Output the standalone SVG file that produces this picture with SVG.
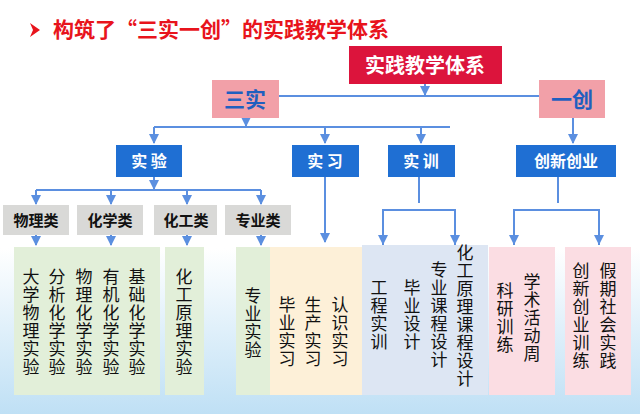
<svg xmlns="http://www.w3.org/2000/svg" width="640" height="414" viewBox="0 0 640 414">
<defs>
<linearGradient id="bg" x1="0" y1="0" x2="0" y2="1"><stop offset="0" stop-color="#ffffff"/><stop offset="0.6" stop-color="#ffffff"/><stop offset="1" stop-color="#bfe0f5"/></linearGradient>
<marker id="ah" viewBox="0 0 10 10" refX="9" refY="5" markerWidth="5" markerHeight="5" orient="auto"><path d="M0,0 L10,5 L0,10 z" fill="#5b8fe0"/></marker>
<style>
.t{font-family:"Noto Sans CJK SC",sans-serif;}
.lvl{fill:#1f6fd3}
.lt{font-family:"Noto Sans CJK SC",sans-serif;font-size:16px;font-weight:bold;fill:#fff;text-anchor:middle}
.gray{fill:#d9d9d7}
.gt{font-family:"Noto Sans CJK SC",sans-serif;font-size:15px;font-weight:bold;fill:#111;text-anchor:middle}
.v{font-family:"Noto Sans CJK SC",sans-serif;font-size:17px;fill:#111;writing-mode:vertical-rl;letter-spacing:1px}
.c line,.c path{stroke:#5b8fe0;stroke-width:2;fill:none}
</style>
</defs>
<rect width="640" height="414" fill="url(#bg)"/>
<g id="title">
<path d="M30,23 L40,30 L30,37 L33,30 z" fill="#e8141c"/>
<text x="53" y="37" class="t" font-size="21" font-weight="bold" fill="#e8141c">构筑了“三实一创”的实践教学体系</text>
</g>
<g class="c" id="connectors">
<line x1="279" y1="96" x2="539" y2="96"/>
<line x1="425" y1="84" x2="425" y2="95" marker-end="url(#ah)"/>
<line x1="246" y1="118" x2="246" y2="126" marker-end="url(#ah)"/>
<line x1="154" y1="127" x2="450" y2="127"/>
<line x1="154" y1="127" x2="154" y2="143" marker-end="url(#ah)"/>
<line x1="325" y1="127" x2="325" y2="143" marker-end="url(#ah)"/>
<line x1="421" y1="127" x2="421" y2="143" marker-end="url(#ah)"/>
<line x1="573" y1="118" x2="573" y2="143" marker-end="url(#ah)"/>
<line x1="154" y1="177" x2="154" y2="189" marker-end="url(#ah)"/>
<line x1="36" y1="190" x2="261" y2="190"/>
<line x1="36" y1="190" x2="36" y2="204" marker-end="url(#ah)"/>
<line x1="111" y1="190" x2="111" y2="204" marker-end="url(#ah)"/>
<line x1="187" y1="190" x2="187" y2="204" marker-end="url(#ah)"/>
<line x1="261" y1="190" x2="261" y2="204" marker-end="url(#ah)"/>
<line x1="36" y1="235" x2="36" y2="245" marker-end="url(#ah)"/>
<line x1="111" y1="235" x2="111" y2="245" marker-end="url(#ah)"/>
<line x1="187" y1="235" x2="187" y2="245" marker-end="url(#ah)"/>
<line x1="261" y1="235" x2="261" y2="245" marker-end="url(#ah)"/>
<line x1="325" y1="177" x2="325" y2="242" marker-end="url(#ah)"/>
<line x1="419" y1="177" x2="419" y2="203"/>
<path d="M383,245 V210 H455 V245" />
<line x1="383" y1="230" x2="383" y2="244" marker-end="url(#ah)"/>
<line x1="455" y1="230" x2="455" y2="244" marker-end="url(#ah)"/>
<line x1="558" y1="177" x2="558" y2="203"/>
<path d="M514,245 V210 H599 V245" />
<line x1="514" y1="230" x2="514" y2="244" marker-end="url(#ah)"/>
<line x1="599" y1="230" x2="599" y2="244" marker-end="url(#ah)"/>
</g>
<g id="root"><rect x="349" y="46" width="153" height="38" fill="#dc143c"/><text x="425" y="73" class="t" font-size="20" font-weight="bold" fill="#fff" text-anchor="middle">实践教学体系</text></g>
<g id="sanshi"><rect x="212" y="80" width="67" height="38" fill="#f2a0a8"/><text x="245" y="107" class="t" font-size="21" font-weight="bold" fill="#1f5fbf" text-anchor="middle">三实</text></g>
<g id="yichuang"><rect x="539" y="80" width="66" height="38" fill="#f2a0a8"/><text x="572" y="107" class="t" font-size="21" font-weight="bold" fill="#1f5fbf" text-anchor="middle">一创</text></g>
<g id="shiyan"><rect x="116" y="145" width="66" height="32" class="lvl"/><text x="149" y="167" class="lt">实 验</text></g>
<g id="shixi"><rect x="292" y="145" width="67" height="32" class="lvl"/><text x="325" y="167" class="lt">实 习</text></g>
<g id="shixun"><rect x="388" y="145" width="67" height="32" class="lvl"/><text x="421" y="167" class="lt">实 训</text></g>
<g id="chuangye"><rect x="516" y="145" width="100" height="32" class="lvl"/><text x="566" y="167" class="lt">创新创业</text></g>
<g id="wuli"><rect x="3" y="205" width="66" height="30" class="gray"/><text x="36" y="226" class="gt">物理类</text></g>
<g id="huaxue"><rect x="77" y="205" width="66" height="30" class="gray"/><text x="110" y="226" class="gt">化学类</text></g>
<g id="huagong"><rect x="154" y="205" width="63" height="30" class="gray"/><text x="186" y="226" class="gt">化工类</text></g>
<g id="zhuanye"><rect x="225" y="205" width="66" height="30" class="gray"/><text x="258" y="226" class="gt">专业类</text></g>
<g id="g1"><rect x="14" y="247" width="146" height="148" fill="#e2efd9"/>
<text class="v" x="31" y="268">大学物理实验</text>
<text class="v" x="57" y="268">分析化学实验</text>
<text class="v" x="84" y="268">物理化学实验</text>
<text class="v" x="111" y="268">有机化学实验</text>
<text class="v" x="137" y="268">基础化学实验</text>
</g>
<g id="g2"><rect x="165" y="247" width="39" height="148" fill="#e2efd9"/>
<text class="v" x="184" y="268">化工原理实验</text>
</g>
<g id="g3"><rect x="236" y="247" width="34" height="148" fill="#e2efd9"/>
<text class="v" x="253" y="287">专业实验</text>
</g>
<g id="g4"><rect x="270" y="247" width="92" height="148" fill="#fdf0d8"/>
<text class="v" x="287" y="296">毕业实习</text>
<text class="v" x="313" y="296">生产实习</text>
<text class="v" x="340" y="296">认识实习</text>
</g>
<g id="g5"><rect x="362" y="245" width="126" height="150" fill="#dde6f3"/>
<text class="v" x="379" y="279">工程实训</text>
<text class="v" x="412" y="279">毕业设计</text>
<text class="v" x="439" y="261">专业课程设计</text>
<text class="v" x="465" y="244">化工原理课程设计</text>
</g>
<g id="g6"><rect x="489" y="247" width="66" height="148" fill="#fbdde3"/>
<text class="v" x="505" y="282">科研训练</text>
<text class="v" x="532" y="273">学术活动周</text>
</g>
<g id="g7"><rect x="565" y="247" width="66" height="148" fill="#fbdde3"/>
<text class="v" x="581" y="262">创新创业训练</text>
<text class="v" x="608" y="262">假期社会实践</text>
</g>
</svg>
